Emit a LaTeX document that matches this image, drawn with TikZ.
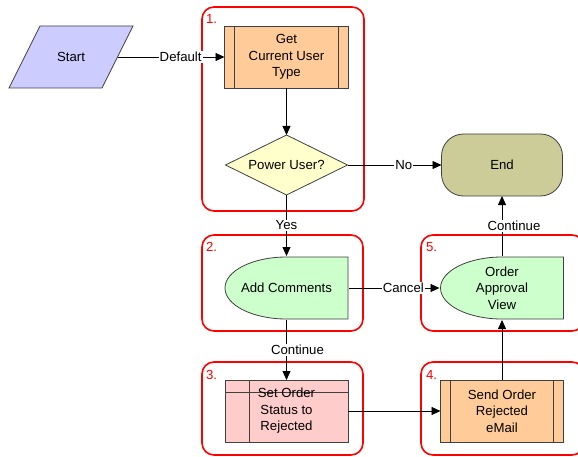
\documentclass[tikz,border=0pt]{standalone}
\usepackage{fontspec}
\setmainfont{Liberation Sans}
\usetikzlibrary{arrows.meta,shapes.geometric}
\definecolor{FCLavender}{HTML}{CCCCFF}
\definecolor{FCOrange}{HTML}{FFCC99}
\definecolor{FCYellow}{HTML}{FFFFCC}
\definecolor{FCKhaki}{HTML}{CCCC99}
\definecolor{FCGreen}{HTML}{CCFFCC}
\definecolor{FCPink}{HTML}{FFCCCC}
\definecolor{FCEdge}{HTML}{404040}
\definecolor{FCRed}{HTML}{FF0000}

\begin{document}
\begin{tikzpicture}[x=1pt,y=1pt,
  font=\fontsize{13.2}{16.5}\selectfont,
  every node/.style={align=center,inner sep=0pt,outer sep=0pt},
  box/.style={draw=FCEdge,line width=.8pt,minimum width=123pt,minimum height=62pt},
  subproc/.style={box,fill=FCOrange,path picture={
      \draw[FCEdge,line width=.8pt] ([xshift=10pt]path picture bounding box.north west) -- ([xshift=10pt]path picture bounding box.south west);
      \draw[FCEdge,line width=.8pt] ([xshift=-10pt]path picture bounding box.north east) -- ([xshift=-10pt]path picture bounding box.south east);}},
  setbox/.style={box,fill=FCPink,path picture={
      \draw[FCEdge,line width=.8pt] ([xshift=24pt]path picture bounding box.north west) -- ([xshift=24pt]path picture bounding box.south west);
      \draw[FCEdge,line width=.8pt] ([yshift=-12pt]path picture bounding box.north west) -- ([yshift=-12pt]path picture bounding box.north east);}},
  slanted/.style={minimum width=126pt,minimum height=64pt,path picture={
      \draw[FCEdge,fill=FCLavender,line width=.8pt] ([shift={(32pt,-1pt)}]path picture bounding box.north west)
        -- ([shift={(-1pt,-1pt)}]path picture bounding box.north east)
        -- ([shift={(-32pt,1pt)}]path picture bounding box.south east)
        -- ([shift={(1pt,1pt)}]path picture bounding box.south west) -- cycle;}},
  disp/.style={minimum width=125pt,minimum height=64pt,path picture={
      \draw[FCEdge,fill=FCGreen,line width=.8pt] ([yshift=-1pt]path picture bounding box.north)
        -- ([shift={(-1pt,-1pt)}]path picture bounding box.north east)
        -- ([shift={(-1pt,1pt)}]path picture bounding box.south east)
        -- ([yshift=1pt]path picture bounding box.south)
        arc[start angle=270,end angle=90,x radius=61.5pt,y radius=31pt] -- cycle;}},
  frame/.style={draw=FCRed,line width=1.6pt,rounded corners=12pt},
  stepnum/.style={text=FCRed,anchor=west},
  flow/.style={draw=black,line width=.8pt,-{Triangle[length=9pt,width=8pt]}},
  elabel/.style={fill=white,inner sep=1pt}]
\path[use as bounding box] (0,0) rectangle (578,456);
\clip (0,0) rectangle (578,456);
\fill[white] (0,0) rectangle (578,456);

% step frames
\draw[frame] (202,449) rectangle (364,245);
\draw[frame] (202,221) rectangle (363,125);
\draw[frame] (421,221) rectangle (584,125);
\draw[frame] (202,94) rectangle (363,1);
\draw[frame] (421,94) rectangle (584,1);
\node[stepnum] at (206,437) {1.};
\node[stepnum] at (206,209) {2.};
\node[stepnum] at (426,209) {5.};
\node[stepnum] at (206,81) {3.};
\node[stepnum] at (426,81) {4.};

% nodes
\node[slanted] (start) at (71,399) {Start};
\node[subproc,minimum width=124pt] (getuser) at (286.5,399) {Get\\Current User\\Type};
\node[diamond,aspect=2,minimum width=122pt,minimum height=60pt,draw=FCEdge,line width=.8pt,fill=FCYellow] (power) at (286.5,291) {Power User?};
\node[draw=FCEdge,line width=.8pt,fill=FCKhaki,rounded corners=22pt,minimum width=121pt,minimum height=62pt] (stop) at (502,291) {End};
\node[disp] (addc) at (286.5,168) {Add Comments};
\node[disp] (oav) at (502,168) {Order\\Approval\\View};
\node[setbox] (setord) at (286.5,45) {Set Order\\Status to\\Rejected};
\node[subproc] (sendord) at (502,45) {Send Order\\Rejected\\eMail};

% connectors
\draw[flow] ([xshift=-16.5pt]start.east) -- node[elabel,pos=.59] {Default} (getuser);
\draw[flow] (getuser) -- (power);
\draw[flow] (power) -- node[elabel,pos=.6] {No} (stop);
\draw[flow] (power) -- node[elabel] {Yes} (addc);
\draw[flow] (addc) -- node[elabel,pos=.6] {Cancel} (oav);
\draw[flow] (addc) -- node[elabel,xshift=11pt] {Continue} (setord);
\draw[flow] (setord) -- (sendord);
\draw[flow] (sendord) -- (oav);
\draw[flow] (oav) -- node[elabel,xshift=12pt] {Continue} (stop);
\end{tikzpicture}
\end{document}
